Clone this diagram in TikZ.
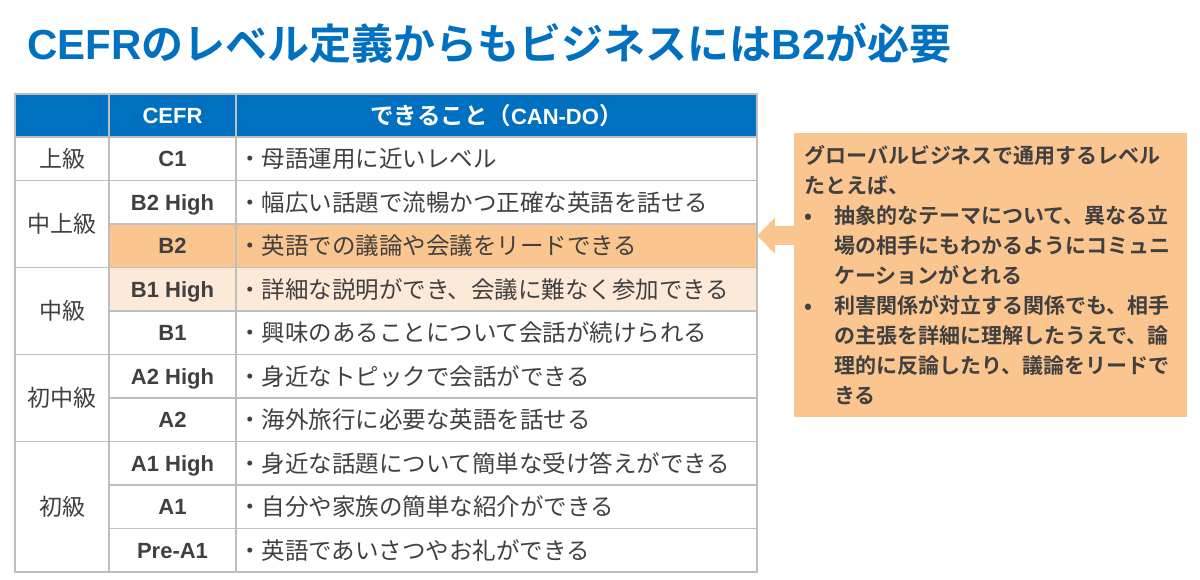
\documentclass[tikz,border=0pt]{standalone}
\usepackage{fontspec}
\setmainfont{Liberation Sans}
\newfontfamily\jp{Noto Sans CJK JP}[BoldFont={Noto Sans CJK JP Bold}]
\usetikzlibrary{arrows.meta,positioning,calc}

\definecolor{hdrblue}{RGB}{0,112,192}
\definecolor{peach}{RGB}{250,197,143}
\definecolor{lightpeach}{RGB}{253,233,216}
\definecolor{gridgray}{RGB}{190,190,190}
\definecolor{txtgray}{RGB}{64,64,64}

\begin{document}
\begin{tikzpicture}[x=1pt,y=-1pt,
	cell/.style={draw=gridgray,line width=1.3pt,inner sep=0pt,outer sep=0pt,minimum height=43.5pt,text=txtgray},
	lv/.style={cell,minimum width=94pt,font=\jp\fontsize{23}{23}\selectfont},
	cefr/.style={cell,minimum width=127pt,text height=15.8pt,text depth=0pt,font=\bfseries\fontsize{22}{22}\selectfont},
	cando/.style={cell,minimum width=521pt,text width=517pt,inner xsep=2pt,align=left,font=\jp\fontsize{23.5}{23.5}\selectfont},
	head/.style={fill=hdrblue,text=white,minimum height=43pt},
	note/.style={fill=peach,minimum width=393pt,minimum height=284pt,text width=373pt,inner xsep=10pt,inner ysep=0pt,
		align=left,text=txtgray,font=\jp\bfseries\fontsize{21}{30}\selectfont},
	blockarrow/.style={draw=peach,line width=19pt,-{Triangle[length=18pt,width=35pt]}}]
	
	\useasboundingbox (0,0) rectangle (1200,579);
	
	\node[anchor=west,text=hdrblue,font=\bfseries\fontsize{42}{42}\selectfont] (title) at (24,43)
		{CEFR{\jp のレベル定義からもビジネスには}B2{\jp が必要}};
	
	% header
	\node[lv,head,anchor=north west] (h0) at (15,94) {};
	\node[cefr,head,right=0pt of h0] (h1) {CEFR};
	\node[cando,head,right=0pt of h1,align=center] (h2) {{\bfseries できること（}{\rmfamily\bfseries\fontsize{22}{22}\selectfont CAN-DO}{\bfseries ）}};
	
	% CEFR levels and can-do
	\node[cefr,below=0pt of h1] (c1) {C1};
	\node[cando,right=0pt of c1] (d1) {・母語運用に近いレベル};
	\node[cefr,below=0pt of c1] (b2h) {B2 High};
	\node[cando,right=0pt of b2h] (d2h) {・幅広い話題で流暢かつ正確な英語を話せる};
	\node[cefr,fill=peach,below=0pt of b2h] (b2) {B2};
	\node[cando,fill=peach,right=0pt of b2] (d2) {・英語での議論や会議をリードできる};
	\node[cefr,fill=lightpeach,below=0pt of b2] (b1h) {B1 High};
	\node[cando,fill=lightpeach,right=0pt of b1h] (d1h) {・詳細な説明ができ、会議に難なく参加できる};
	\node[cefr,below=0pt of b1h] (b1) {B1};
	\node[cando,right=0pt of b1] (db1) {・興味のあることについて会話が続けられる};
	\node[cefr,below=0pt of b1] (a2h) {A2 High};
	\node[cando,right=0pt of a2h] (da2h) {・身近なトピックで会話ができる};
	\node[cefr,below=0pt of a2h] (a2) {A2};
	\node[cando,right=0pt of a2] (da2) {・海外旅行に必要な英語を話せる};
	\node[cefr,below=0pt of a2] (a1h) {A1 High};
	\node[cando,right=0pt of a1h] (da1h) {・身近な話題について簡単な受け答えができる};
	\node[cefr,below=0pt of a1h] (a1) {A1};
	\node[cando,right=0pt of a1] (da1) {・自分や家族の簡単な紹介ができる};
	\node[cefr,below=0pt of a1] (pa1) {Pre-A1};
	\node[cando,right=0pt of pa1] (dpa1) {・英語であいさつやお礼ができる};
	
	% level groups
	\node[lv,anchor=north east] (g1) at (c1.north west) {上級};
	\node[lv,anchor=north east,minimum height=87pt] (g2) at (b2h.north west) {中上級};
	\node[lv,anchor=north east,minimum height=87pt] (g3) at (b1h.north west) {中級};
	\node[lv,anchor=north east,minimum height=87pt] (g4) at (a2h.north west) {初中級};
	\node[lv,anchor=north east,minimum height=130.5pt] (g5) at (a1h.north west) {初級};
	
	% callout
	\node[note,anchor=north west] (memo) at (794,133) {%
		グローバルビジネスで通用するレベル\\
		たとえば、\\
		\makebox[30pt][l]{•}抽象的なテーマについて、異なる立\\
		\hspace*{30pt}場の相手にもわかるようにコミュニ\\
		\hspace*{30pt}ケーションがとれる\\
		\makebox[30pt][l]{•}利害関係が対立する関係でも、相手\\
		\hspace*{30pt}の主張を詳細に理解したうえで、論\\
		\hspace*{30pt}理的に反論したり、議論をリードで\\
		\hspace*{30pt}きる};
	
	\coordinate (tip) at ($(d2.east)+(0,-10)$);
	\draw[blockarrow] (memo.west |- tip) -- (tip);
\end{tikzpicture}
\end{document}
